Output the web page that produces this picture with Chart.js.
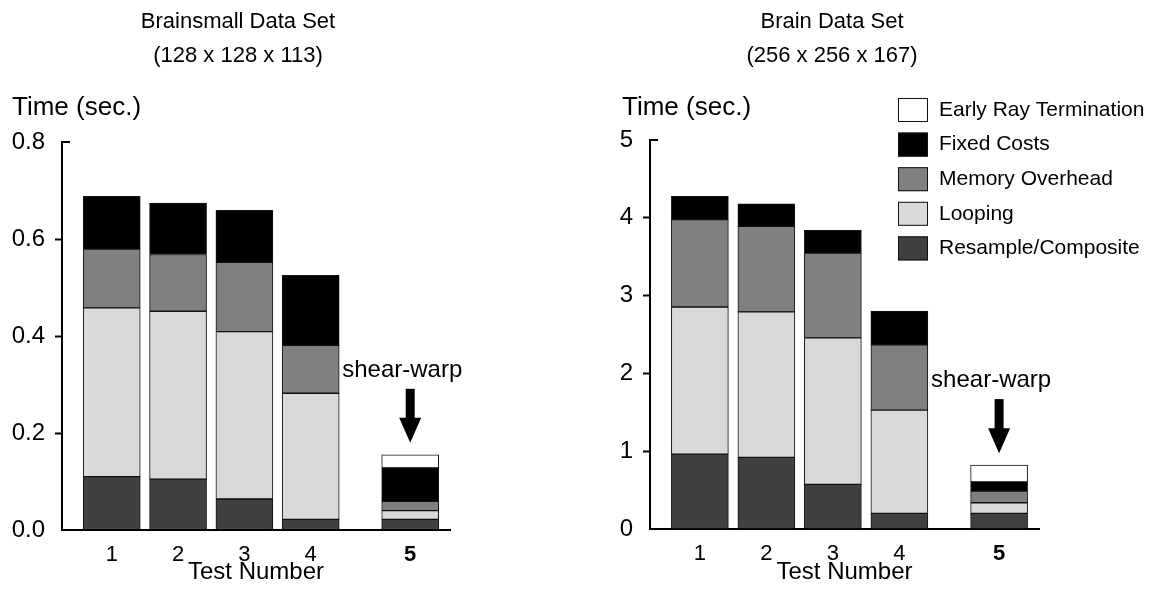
<!DOCTYPE html>
<html>
<head>
<meta charset="utf-8">
<script src="https://cdn.jsdelivr.net/npm/chart.js@4"></script>
<style>
  html, body { margin: 0; padding: 0; background: #fff; }
  #wrap { display: flex; width: 1160px; height: 600px; }
  .box { position: relative; width: 580px; height: 600px; }
</style>
</head>
<body>
<div id="wrap">
  <div class="box"><canvas id="left"></canvas></div>
  <div class="box"><canvas id="right"></canvas></div>
</div>
<script>
const FONT = '"Liberation Sans", Arial, Helvetica, sans-serif';

// test number labels and where they sit on the x axis (5 is set apart)
const testLabels = ['1', '2', '3', '4', '5'];
const testX = [1, 2, 3, 4, 5.5];

const seriesNames = ['Resample/Composite', 'Looping', 'Memory Overhead', 'Fixed Costs', 'Early Ray Termination'];
const seriesColors = ['#404040', '#d9d9d9', '#808080', '#000000', '#ffffff'];

// Brainsmall data set (128 x 128 x 113)
const smallResample = [0.110, 0.105, 0.064, 0.022, 0.022];
const smallLooping  = [0.348, 0.346, 0.345, 0.260, 0.018];
const smallMemory   = [0.121, 0.117, 0.143, 0.099, 0.019];
const smallFixed    = [0.109, 0.106, 0.107, 0.144, 0.069];
const smallEarly    = [null, null, null, null, 0.027];
const smallTicks = [0, 0.2, 0.4, 0.6, 0.8];

// Brain data set (256 x 256 x 167)
const brainResample = [0.963, 0.920, 0.573, 0.201, 0.200];
const brainLooping  = [1.891, 1.870, 1.883, 1.327, 0.137];
const brainMemory   = [1.122, 1.100, 1.091, 0.838, 0.150];
const brainFixed    = [0.299, 0.291, 0.291, 0.436, 0.119];
const brainEarly    = [null, null, null, null, 0.215];
const brainTicks = [0, 1, 2, 3, 4, 5];

function makeDatasets(series) {
  return series.map((vals, s) => ({
    label: seriesNames[s],
    data: testX.map((x, i) => ({ x: x, y: vals[i] })),
    backgroundColor: seriesColors[s],
    borderColor: '#111',
    borderWidth: 1,
    borderSkipped: false,
    barThickness: 57
  }));
}

// titles, unit label, arrow, top tick, legend
const decorations = {
  id: 'decorations',
  afterDraw(chart, args, opts) {
    const ctx = chart.ctx;
    const area = chart.chartArea;
    const xs = chart.scales.x, ys = chart.scales.y;
    ctx.save();
    ctx.fillStyle = '#000';
    ctx.strokeStyle = '#000';

    ctx.font = '22px ' + FONT;
    ctx.textAlign = 'center';
    ctx.textBaseline = 'alphabetic';
    opts.title.forEach((line, i) => ctx.fillText(line, opts.titleX, 28 + i * 34));

    ctx.font = '26px ' + FONT;
    ctx.textAlign = 'left';
    ctx.fillText('Time (sec.)', opts.unitX, 115);

    // top tick points inward
    ctx.lineWidth = 2;
    ctx.beginPath();
    ctx.moveTo(area.left - 1, area.top);
    ctx.lineTo(area.left + 8, area.top);
    ctx.stroke();

    // arrow to the shear-warp bar
    const last = testX.length - 1;
    const total = chart.data.datasets.reduce((s, d) => s + (d.data[last].y || 0), 0);
    const ax = xs.getPixelForValue(testX[last]);
    const top = ys.getPixelForValue(total);
    ctx.fillRect(ax - 4.5, top - 66, 9, 31);
    ctx.beginPath();
    ctx.moveTo(ax - 11, top - 37);
    ctx.lineTo(ax + 11, top - 37);
    ctx.lineTo(ax, top - 12);
    ctx.closePath();
    ctx.fill();
    ctx.font = '24px ' + FONT;
    ctx.fillText('shear-warp', ax - 68, top - 78);

    if (opts.legend) {
      ctx.font = '21px ' + FONT;
      ctx.textBaseline = 'middle';
      const sets = chart.data.datasets.slice().reverse();
      sets.forEach((d, i) => {
        const by = 98 + i * 34.6;
        ctx.fillStyle = d.backgroundColor;
        ctx.fillRect(opts.legendX, by, 30, 24);
        ctx.lineWidth = 1;
        ctx.strokeStyle = '#111';
        ctx.strokeRect(opts.legendX + 0.5, by + 0.5, 29, 23);
        ctx.fillStyle = '#000';
        ctx.fillText(d.label, opts.legendX + 41, by + 12);
      });
    }
    ctx.restore();
  }
};

function makeChart(id, series, ticks, cfg) {
  const topValue = ticks[ticks.length - 1];
  return new Chart(document.getElementById(id), {
    type: 'bar',
    data: { datasets: makeDatasets(series) },
    options: {
      responsive: false,
      animation: false,
      devicePixelRatio: 1,
      layout: { padding: { left: 0, top: cfg.top, right: cfg.right, bottom: 0 } },
      plugins: {
        legend: { display: false },
        tooltip: { enabled: false },
        decorations: cfg.deco
      },
      scales: {
        x: {
          type: 'linear',
          stacked: true,
          offset: false,
          min: 0.25,
          max: 6.1,
          afterFit: s => { s.height = cfg.xHeight; },
          afterBuildTicks: s => { s.ticks = testX.map(v => ({ value: v })); },
          ticks: {
            color: '#000',
            padding: 12,
            font: c => ({ family: FONT, size: 22, weight: c.index === testLabels.length - 1 ? 'bold' : 'normal' }),
            callback: (v, i) => testLabels[i]
          },
          grid: { display: false, drawTicks: false },
          border: { display: true, color: '#000', width: 2 },
          title: {
            display: true,
            text: 'Test Number',
            color: '#000',
            font: { family: FONT, size: 24 },
            padding: { top: 0, bottom: 13 }
          }
        },
        y: {
          stacked: true,
          min: 0,
          max: topValue,
          afterFit: s => { s.width = cfg.yWidth; },
          afterBuildTicks: s => { s.ticks = ticks.map(v => ({ value: v })); },
          ticks: {
            color: '#000',
            padding: 10,
            font: { family: FONT, size: 24 },
            callback: v => cfg.fmt(v)
          },
          grid: {
            drawOnChartArea: false,
            drawTicks: true,
            tickLength: 7,
            tickWidth: 2,
            tickColor: c => (c.tick && (c.tick.value === 0 || c.tick.value === topValue)) ? 'rgba(0,0,0,0)' : '#000'
          },
          border: { display: true, color: '#000', width: 2 }
        }
      }
    },
    plugins: [decorations]
  });
}

const leftCanvas = document.getElementById('left');
leftCanvas.width = 580; leftCanvas.height = 600;
const rightCanvas = document.getElementById('right');
rightCanvas.width = 580; rightCanvas.height = 600;

makeChart('left',
  [smallResample, smallLooping, smallMemory, smallFixed, smallEarly],
  smallTicks,
  {
    top: 142, right: 130, xHeight: 70, yWidth: 62,
    fmt: v => v.toFixed(1),
    deco: { title: ['Brainsmall Data Set', '(128 x 128 x 113)'], titleX: 238, unitX: 12, legend: false }
  });

makeChart('right',
  [brainResample, brainLooping, brainMemory, brainFixed, brainEarly],
  brainTicks,
  {
    top: 140, right: 121, xHeight: 71, yWidth: 70,
    fmt: v => String(v),
    deco: { title: ['Brain Data Set', '(256 x 256 x 167)'], titleX: 252, unitX: 42, legend: true, legendX: 318 }
  });
</script>
</body>
</html>
